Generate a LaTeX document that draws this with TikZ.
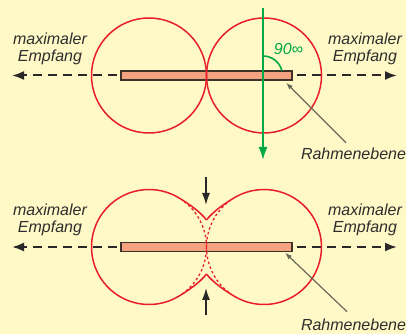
\documentclass[tikz,border=0pt]{standalone}
\usepackage{fontspec}
\setmainfont{Liberation Sans}
\usetikzlibrary{arrows.meta}
\definecolor{bgyellow}{RGB}{255,249,200}
\definecolor{lobered}{RGB}{232,30,40}
\definecolor{barfill}{RGB}{244,162,128}
\definecolor{barline}{RGB}{60,50,40}
\definecolor{axisgray}{RGB}{40,40,40}
\definecolor{txtgray}{RGB}{45,45,45}
\definecolor{ptrgray}{RGB}{105,105,90}
\definecolor{arrowgreen}{RGB}{0,168,70}
\tikzset{
  lbl/.style={font=\fontsize{16}{17}\selectfont\itshape, text=txtgray, align=center, inner sep=0pt},
  glbl/.style={font=\fontsize{16}{17}\selectfont\itshape, text=arrowgreen, inner sep=0pt},
  framebar/.style={draw=barline, line width=1.2pt, fill=barfill, minimum width=171pt, minimum height=9pt, inner sep=0pt},
  lobecircle/.style={circle, draw=lobered, line width=1.5pt, minimum size=115pt, inner sep=0pt},
  lobeline/.style={draw=lobered, line width=1.5pt},
  lobedash/.style={draw=lobered, line width=1.3pt, dash pattern=on 2.5pt off 2.5pt},
  axisline/.style={draw=axisgray, line width=2pt, dash pattern=on 9pt off 6pt, -{Latex[length=12pt,width=9pt]}},
  ptrline/.style={draw=ptrgray, line width=1.2pt, -{Latex[length=7pt,width=5pt]}},
  vline/.style={draw=arrowgreen, line width=2pt, -{Latex[length=13pt,width=9pt]}},
  angarc/.style={draw=arrowgreen, line width=1.6pt},
  pinch/.style={draw=axisgray, line width=1.5pt, -{Latex[length=12pt,width=8pt]}}
}
\begin{document}
\begin{tikzpicture}[x=1pt,y=1pt]
\fill[bgyellow] (0,0) rectangle (406,334);
\useasboundingbox (0,0) rectangle (406,334);

% ===== upper diagram =====
\coordinate (tL) at (12,258.5);
\coordinate (tR) at (397,258.5);
\coordinate (tC) at (206.5,258.5);
\draw[axisline] (tC) -- (tL);
\draw[axisline] (tC) -- (tR);
\node[framebar] (bar1) at (tC) {};
\node[lobecircle] (cL1) at (149,258.5) {};
\node[lobecircle] (cR1) at (264,258.5) {};
\coordinate (gTop) at (263,326);
\coordinate (gBot) at (263,174);
\draw[vline] (gTop) -- (gBot);
\coordinate (gC) at (263,258.5);
\draw[angarc] ([shift={(90:19.5)}]gC) arc[start angle=90, end angle=14, radius=19.5];
\node[glbl] (ang) at (288.5,285) {90∞};
\node[lbl] (mL1) at (50,285.5) {maximaler\\Empfang};
\node[lbl] (mR1) at (365,285.5) {maximaler\\Empfang};
\node[lbl, anchor=base] (rE1) at (353.5,174) {Rahmenebene};
\coordinate (p1end) at (346,191.3);
\coordinate (p1tip) at (286,251.3);
\draw[ptrline] (p1end) -- (p1tip);

% ===== lower diagram =====
\coordinate (bL) at (12,87);
\coordinate (bR) at (397,87);
\coordinate (bC) at (206.5,87);
\draw[axisline] (bC) -- (bL);
\draw[axisline] (bC) -- (bR);
\node[framebar] (bar2) at (bC) {};
% original circles, dashed where they differ
\draw[lobedash] (149,87) ++(-55:57.5) arc[start angle=-55, end angle=55, radius=57.5];
\draw[lobedash] (264,87) ++(125:57.5) arc[start angle=125, end angle=235, radius=57.5];
% pinched lobes
\draw[lobeline] (206.5,114) .. controls (212.5,122) and (224.9,130.8) .. (235.25,136.8)
   arc[start angle=120, end angle=-120, radius=57.5]
   .. controls (224.9,43.2) and (212.5,52) .. (206.5,60);
\draw[lobeline] (206.5,114) .. controls (200.5,122) and (188.1,130.8) .. (177.75,136.8)
   arc[start angle=60, end angle=300, radius=57.5]
   .. controls (188.1,43.2) and (200.5,52) .. (206.5,60);
\coordinate (aT1) at (206,157);
\coordinate (aT2) at (206,129);
\draw[pinch] (aT1) -- (aT2);
\coordinate (aB1) at (206,19);
\coordinate (aB2) at (206,46);
\draw[pinch] (aB1) -- (aB2);
\node[lbl] (mL2) at (50,114.5) {maximaler\\Empfang};
\node[lbl] (mR2) at (365,114.5) {maximaler\\Empfang};
\node[lbl, anchor=base] (rE2) at (353.5,3.5) {Rahmenebene};
\coordinate (p2end) at (347,22.3);
\coordinate (p2tip) at (285,81.3);
\draw[ptrline] (p2end) -- (p2tip);
\end{tikzpicture}
\end{document}
